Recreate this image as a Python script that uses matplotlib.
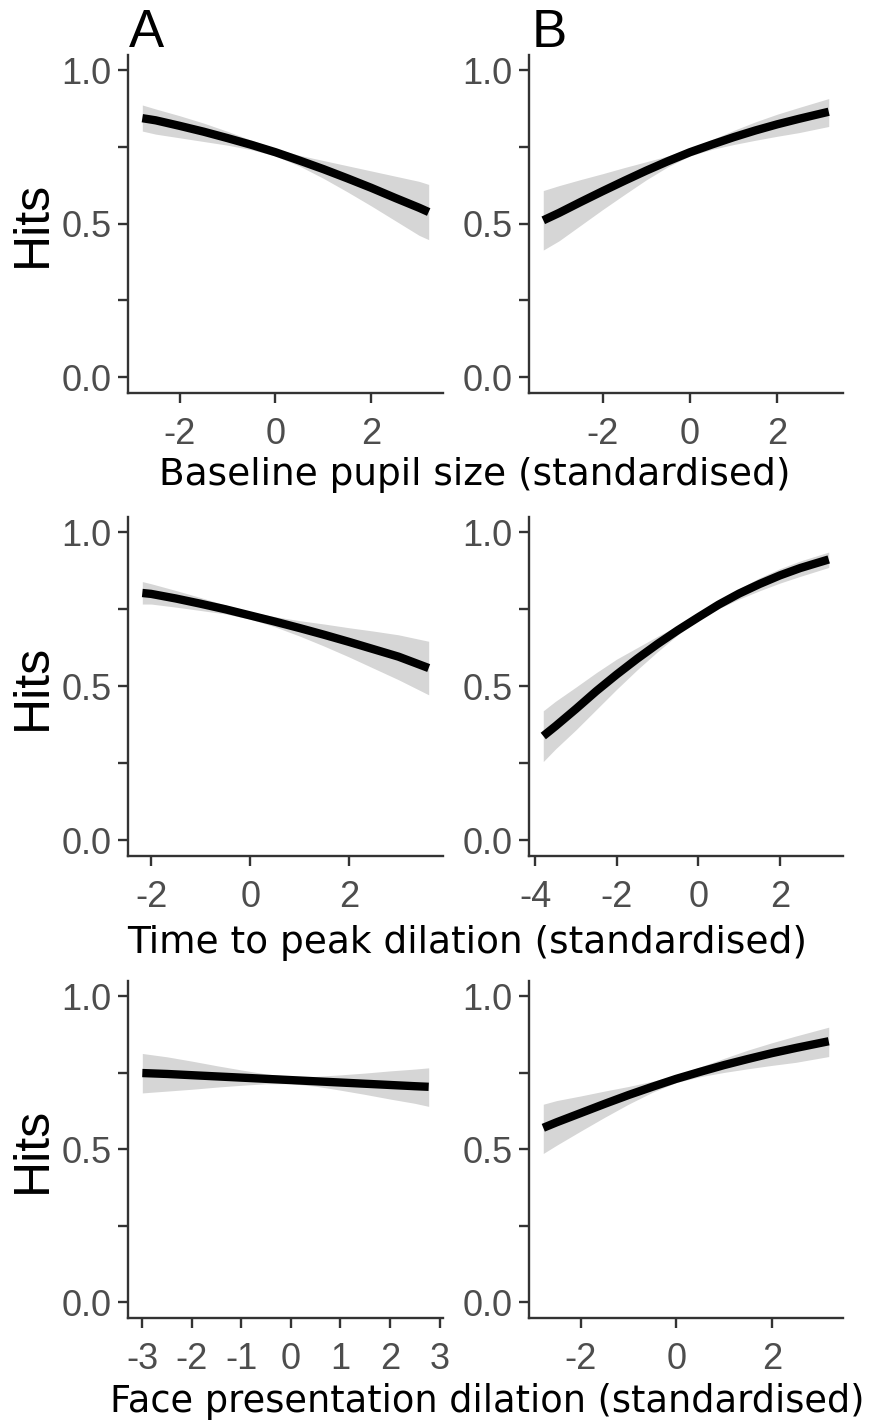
import matplotlib
matplotlib.use("Agg")
import matplotlib.pyplot as plt
import numpy as np

plt.rcParams['axes.unicode_minus'] = False

# valores: probabilidade de acerto (linha) e IC (faixa)
# linha 1: baseline pupil size
base_a_x = [-2.78, -2.5, -2, -1.5, -1, -0.5, 0, 0.5, 1, 1.5, 2, 2.5, 3, 3.2]
base_a_fit = [0.844, 0.837, 0.819, 0.800, 0.779, 0.757, 0.733, 0.706, 0.678, 0.648, 0.617, 0.584, 0.552, 0.538]
base_a_hi = [0.887, 0.874, 0.852, 0.828, 0.801, 0.772, 0.745, 0.723, 0.706, 0.689, 0.672, 0.655, 0.638, 0.628]
base_a_lo = [0.802, 0.792, 0.780, 0.768, 0.756, 0.741, 0.721, 0.688, 0.648, 0.604, 0.558, 0.510, 0.462, 0.448]

base_b_x = [-3.36, -3, -2.5, -2, -1.5, -1, -0.5, 0, 0.5, 1, 1.5, 2, 2.5, 3.18]
base_b_fit = [0.511, 0.535, 0.571, 0.606, 0.640, 0.673, 0.704, 0.733, 0.758, 0.782, 0.804, 0.824, 0.842, 0.865]
base_b_hi = [0.608, 0.624, 0.644, 0.663, 0.683, 0.702, 0.721, 0.745, 0.774, 0.804, 0.832, 0.857, 0.879, 0.908]
base_b_lo = [0.414, 0.444, 0.495, 0.546, 0.595, 0.643, 0.686, 0.721, 0.742, 0.758, 0.772, 0.785, 0.797, 0.817]

# linha 2: time to peak dilation
peak_a_x = [-2.18, -2, -1.5, -1, -0.5, 0, 0.5, 1, 1.5, 2, 2.5, 3, 3.61]
peak_a_fit = [0.803, 0.800, 0.785, 0.768, 0.750, 0.730, 0.710, 0.689, 0.667, 0.644, 0.620, 0.596, 0.559]
peak_a_hi = [0.840, 0.833, 0.811, 0.788, 0.764, 0.742, 0.726, 0.713, 0.702, 0.690, 0.679, 0.667, 0.646]
peak_a_lo = [0.767, 0.767, 0.757, 0.746, 0.735, 0.718, 0.693, 0.663, 0.630, 0.595, 0.558, 0.521, 0.472]

peak_b_x = [-3.8, -3.5, -3, -2.5, -2, -1.5, -1, -0.5, 0, 0.5, 1, 1.5, 2, 2.5, 3.2]
peak_b_fit = [0.338, 0.370, 0.426, 0.484, 0.538, 0.589, 0.637, 0.682, 0.724, 0.765, 0.801, 0.832, 0.860, 0.884, 0.912]
peak_b_hi = [0.420, 0.451, 0.497, 0.544, 0.588, 0.625, 0.662, 0.697, 0.734, 0.777, 0.817, 0.852, 0.882, 0.907, 0.936]
peak_b_lo = [0.255, 0.296, 0.358, 0.424, 0.490, 0.553, 0.612, 0.667, 0.714, 0.752, 0.783, 0.810, 0.835, 0.857, 0.886]

# linha 3: face presentation dilation
face_a_x = [-3.0, -2.5, -2, -1.5, -1, -0.5, 0, 0.5, 1, 1.5, 2, 2.5, 2.78]
face_a_fit = [0.749, 0.746, 0.742, 0.738, 0.734, 0.730, 0.726, 0.722, 0.718, 0.714, 0.710, 0.706, 0.704]
face_a_hi = [0.813, 0.802, 0.788, 0.773, 0.759, 0.746, 0.738, 0.738, 0.743, 0.749, 0.756, 0.762, 0.766]
face_a_lo = [0.684, 0.690, 0.696, 0.703, 0.709, 0.714, 0.714, 0.706, 0.693, 0.679, 0.664, 0.650, 0.640]

face_b_x = [-2.78, -2.5, -2, -1.5, -1, -0.5, 0, 0.5, 1, 1.5, 2, 2.5, 3.19]
face_b_fit = [0.570, 0.588, 0.618, 0.648, 0.677, 0.704, 0.730, 0.753, 0.775, 0.795, 0.814, 0.831, 0.853]
face_b_hi = [0.647, 0.659, 0.674, 0.690, 0.705, 0.722, 0.742, 0.769, 0.797, 0.824, 0.848, 0.870, 0.899]
face_b_lo = [0.486, 0.513, 0.559, 0.604, 0.647, 0.686, 0.718, 0.737, 0.751, 0.763, 0.774, 0.784, 0.803]

x_titles = ["Baseline pupil size (standardised)",
            "Time to peak dilation (standardised)",
            "Face presentation dilation (standardised)"]

W, H = 870, 1420
fig = plt.figure(figsize=(W / 100, H / 100), dpi=100)

# posicoes em pixels (topo, base) de cada linha e (esq, dir) de cada coluna
rows_px = [(55, 393), (517, 856), (981, 1318)]
cols_px = [(128, 443), (529, 843)]
titles_y = [485, 953, 1412]
titles_x = [475, 467, 487]

panels = [
    [(base_a_x, base_a_fit, base_a_hi, base_a_lo, [-2, 0, 2]),
     (base_b_x, base_b_fit, base_b_hi, base_b_lo, [-2, 0, 2])],
    [(peak_a_x, peak_a_fit, peak_a_hi, peak_a_lo, [-2, 0, 2]),
     (peak_b_x, peak_b_fit, peak_b_hi, peak_b_lo, [-4, -2, 0, 2])],
    [(face_a_x, face_a_fit, face_a_hi, face_a_lo, [-3, -2, -1, 0, 1, 2, 3]),
     (face_b_x, face_b_fit, face_b_hi, face_b_lo, [-2, 0, 2])],
]

cinza = '#333333'
for i, (top, bot) in enumerate(rows_px):
    for j, (esq, dir_) in enumerate(cols_px):
        ax = fig.add_axes([esq / W, 1 - bot / H, (dir_ - esq) / W, (bot - top) / H])
        x, fit, hi, lo, ticks = panels[i][j]
        ax.fill_between(x, lo, hi, color='#d6d6d6', lw=0)
        ax.plot(x, fit, color='black', lw=6, solid_capstyle='butt',
                solid_joinstyle='round')
        ax.margins(x=0.05)
        ax.set_ylim(-0.052, 1.05)
        ax.set_yticks([0, 0.25, 0.5, 0.75, 1.0])
        ax.set_yticklabels(['0.0', '', '0.5', '', '1.0'])
        ax.set_xticks(ticks)
        ax.set_xticklabels([str(t) for t in ticks])
        for s in ['top', 'right']:
            ax.spines[s].set_visible(False)
        for s in ['left', 'bottom']:
            ax.spines[s].set_linewidth(1.7)
            ax.spines[s].set_color(cinza)
        ax.tick_params(axis='both', length=7, width=1.7, color=cinza,
                       labelcolor='#4d4d4d', labelsize=26)
        ax.tick_params(axis='y', pad=5)
        ax.tick_params(axis='x', pad=10)
        for lab in ax.get_xticklabels() + ax.get_yticklabels():
            lab.set_family('Liberation Sans')
    # titulo do eixo y e do eixo x
    yc = (top + bot) / 2
    fig.text(56 / W, 1 - yc / H, 'Hits', rotation=90, ha='right', va='center',
             fontsize=36, family='Liberation Sans')
    fig.text(titles_x[i] / W, 1 - titles_y[i] / H, x_titles[i], ha='center',
             va='baseline', fontsize=27 if i < 2 else 26.5, family='DejaVu Sans')

fig.text(129 / W, 1 - 47 / H, 'A', fontsize=38, family='Liberation Sans', va='baseline')
fig.text(532 / W, 1 - 47 / H, 'B', fontsize=38, family='Liberation Sans', va='baseline')

fig.savefig('out.png', dpi=100)
